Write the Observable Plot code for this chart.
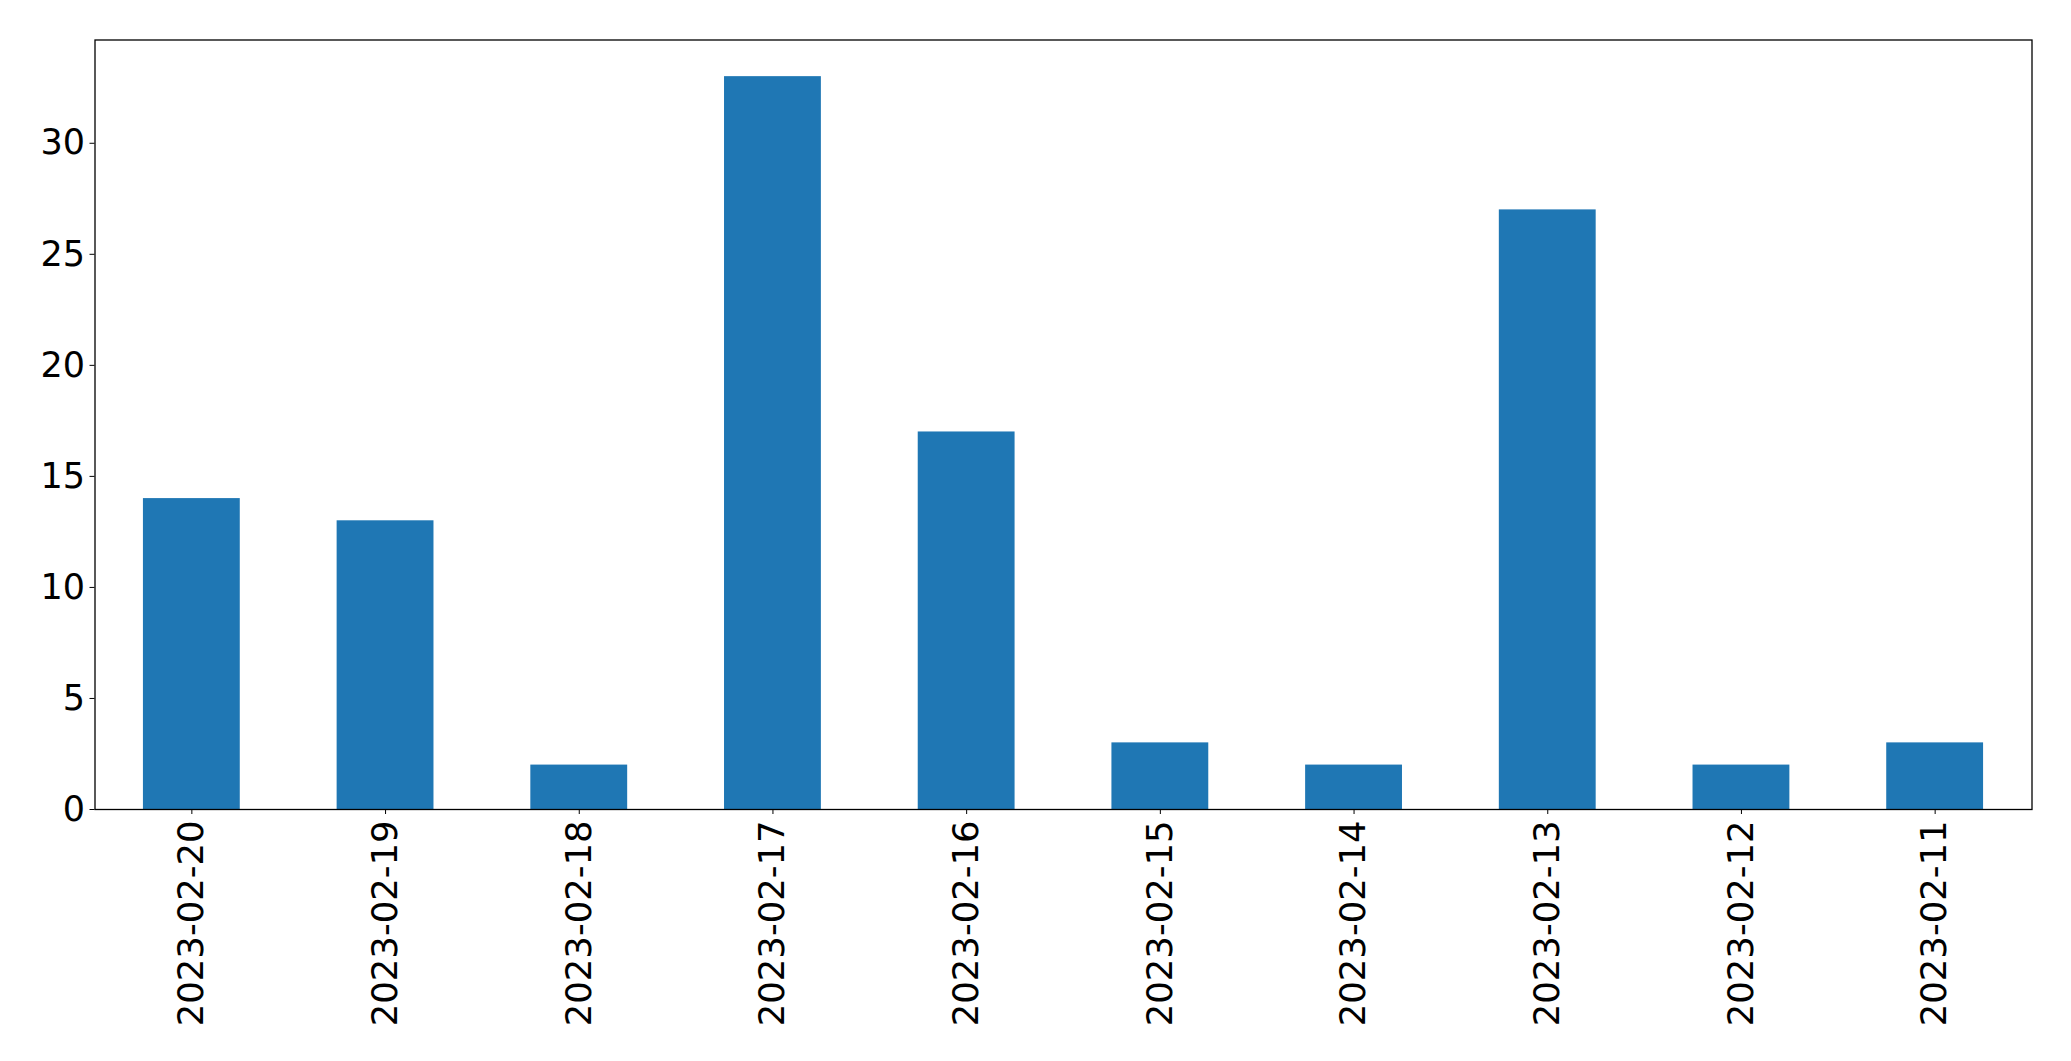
<!DOCTYPE html>
<html>
<head>
<meta charset="utf-8">
<script src="https://cdn.jsdelivr.net/npm/d3@7"></script>
<script src="https://cdn.jsdelivr.net/npm/@observablehq/plot@0.6"></script>
<style>
  html, body { margin: 0; padding: 0; background: #fff; }
  #chart svg { display: block; }
</style>
</head>
<body>
<div id="chart"></div>
<script>
const dates = ["2023-02-20","2023-02-19","2023-02-18","2023-02-17","2023-02-16","2023-02-15","2023-02-14","2023-02-13","2023-02-12","2023-02-11"];
const counts = [14, 13, 2, 33, 17, 3, 2, 27, 2, 3];
const yTicks = [0, 5, 10, 15, 20, 25, 30];

const data = dates.map((d, i) => ({date: d, count: counts[i]}));

const chart = Plot.plot({
  width: 2071,
  height: 1061,
  marginLeft: 94.5,
  marginRight: 39.5,
  marginTop: 39.5,
  marginBottom: 252,
  style: {fontFamily: "DejaVu Sans", fontSize: "35px", color: "black", background: "white"},
  x: {domain: dates, paddingInner: 0.5, paddingOuter: 0.25, round: false, label: null},
  y: {domain: [0, 34.65], label: null},
  marks: [
    Plot.barY(data, {x: "date", y: "count", fill: "#1f77b4"}),
    Plot.frame({stroke: "black", strokeWidth: 1.3}),
    Plot.axisY({ticks: yTicks, tickSize: 5, tickPadding: 5, fontSize: 35, label: null, stroke: "black"}),
    Plot.axisX({tickSize: 5, tickPadding: 6, tickRotate: -90, fontSize: 35.4, label: null, stroke: "black"})
  ]
});
document.getElementById("chart").appendChild(chart);
</script>
</body>
</html>
